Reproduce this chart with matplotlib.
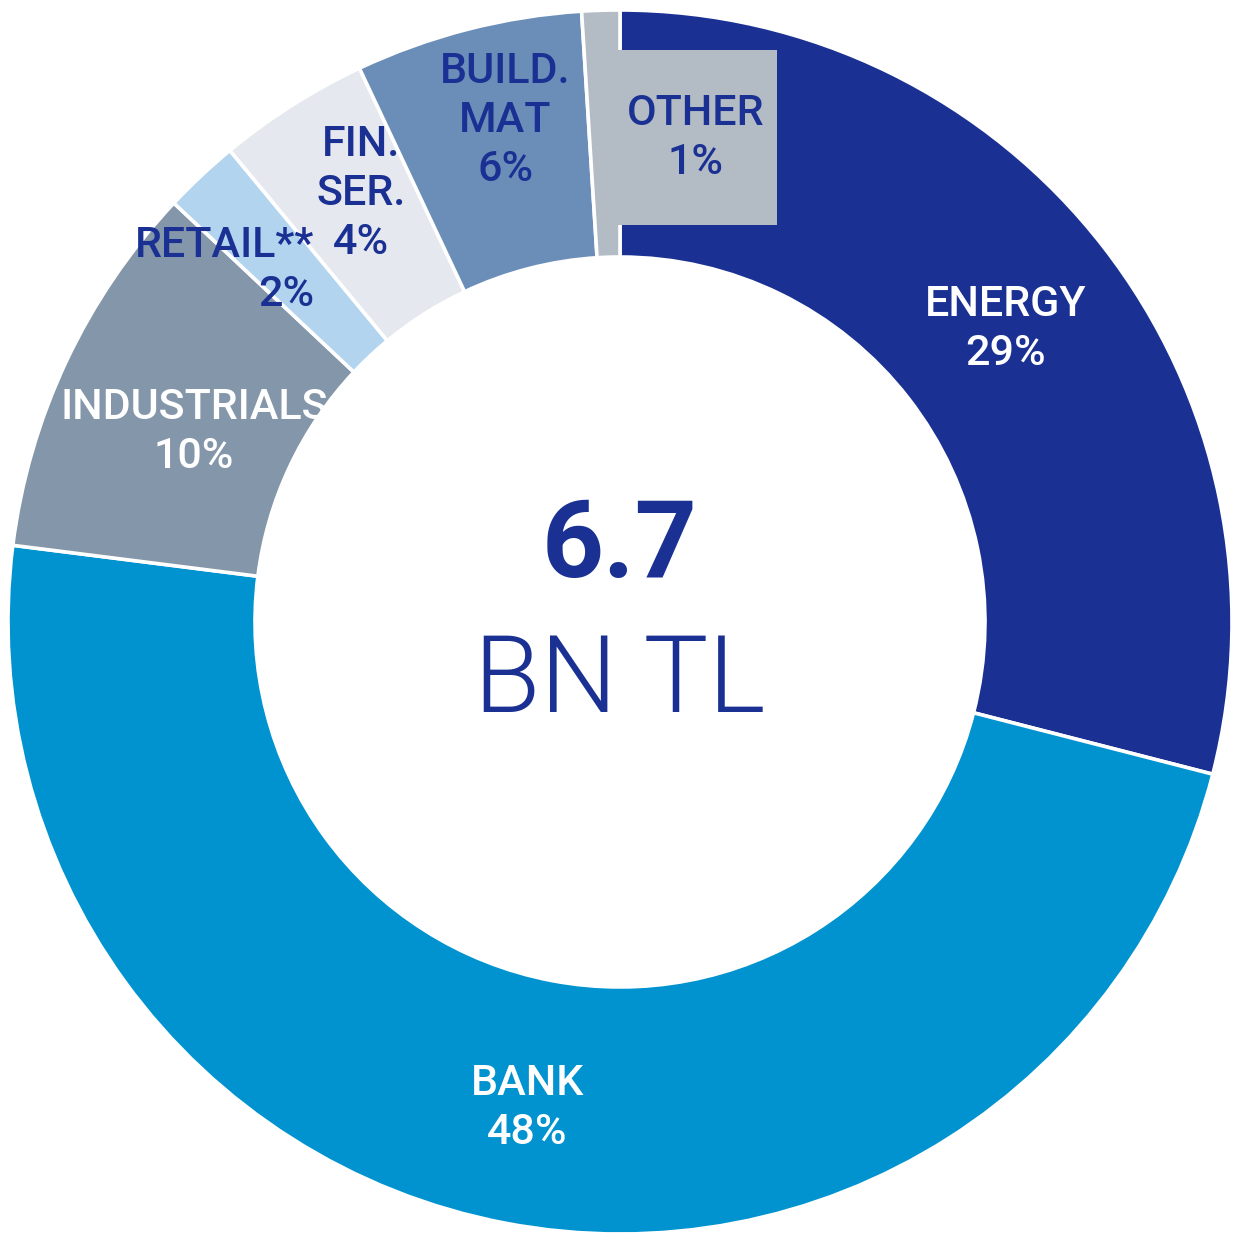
import numpy as np
import matplotlib.pyplot as plt
from matplotlib.patches import Rectangle

plt.rcParams['font.family'] = ['Roboto', 'DejaVu Sans']

# data
sectors = ['ENERGY', 'BANK', 'INDUSTRIALS', 'RETAIL**', 'FIN.\nSER.', 'BUILD.\nMAT', 'OTHER']
shares = [29, 48, 10, 2, 4, 6, 1]
total_value = '6.7'
total_unit = 'BN TL'

colors = ['#1a3193', '#0093d0', '#8496a9', '#b2d4ef', '#e5e8ee', '#6b8eb9', '#b3bbc4']
text_colors = ['white', 'white', 'white', '#1a3193', '#1a3193', '#1a3193', '#1a3193']
# label nudges in pixels (dx right, dy down) from the ring's mid point
nudges = [(0, 6), (-1, 6), (16, 18), (-59, 4), (3, -16), (7, -28), (91, 4)]

W, H = 1239, 1240
cx, cy, R = 620, 622, 612   # pixel center / outer radius
inner = 365 / R

fig = plt.figure(figsize=(W / 100, H / 100), dpi=100)
ax = fig.add_axes([0, 0, 1, 1])

wedges, _ = ax.pie(shares, startangle=90, counterclock=False, colors=colors,
                   radius=1, wedgeprops=dict(width=1 - inner, edgecolor='white', linewidth=2.6))

ax.set_xlim(-cx / R, (W - cx) / R)
ax.set_ylim(-(H - cy) / R, cy / R)
ax.set_aspect('equal')
ax.axis('off')

rmid = (1 + inner) / 2
for i, w in enumerate(wedges):
    ang = np.deg2rad((w.theta1 + w.theta2) / 2)
    x = rmid * np.cos(ang) + nudges[i][0] / R
    y = rmid * np.sin(ang) - nudges[i][1] / R
    label = sectors[i] + '\n' + str(shares[i]) + '%'
    ha = 'center'
    if sectors[i] == 'RETAIL**':
        ha = 'right'
        x = x + 88 / R
    if sectors[i] == 'OTHER':
        bw, bh = 162 / R, 175 / R
        ax.add_patch(Rectangle((x - bw / 2, y - bh / 2), bw, bh, facecolor=colors[i],
                               edgecolor='none', zorder=3))
    ax.text(x, y, label, ha=ha, va='center', multialignment=ha, fontsize=31,
            fontweight='medium', color=text_colors[i], linespacing=1.25, zorder=4)

ax.text(0, (cy - 548) / R, total_value, ha='center', va='center', fontsize=78,
        fontweight='bold', color='#1a3193')
ax.text(0, (cy - 682) / R, total_unit, ha='center', va='center', fontsize=78,
        fontweight=300, color='#1a3193')

fig.savefig('out.png', dpi=100)
